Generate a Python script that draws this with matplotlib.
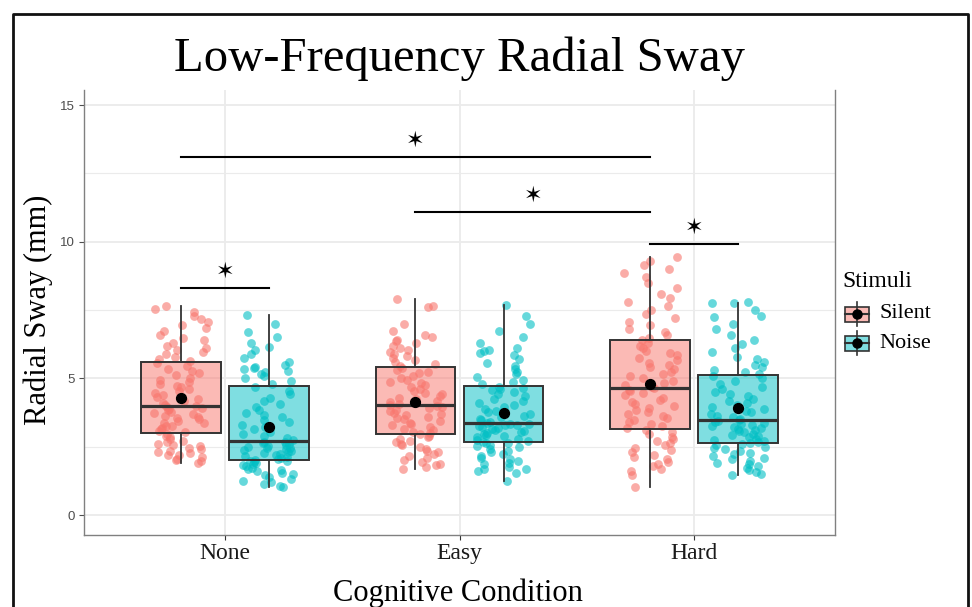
import numpy as np
import matplotlib
matplotlib.use('Agg')
import matplotlib.pyplot as plt
from matplotlib.colors import to_rgba
from matplotlib.patches import Rectangle


# data
conditions = ['None', 'Easy', 'Hard']
stimuli = ['Silent', 'Noise']
colors = ['#F8766D', '#00BFC4']

# box statistics per condition: [Silent, Noise]
q1 = [[2.99, 2.00], [2.96, 2.66], [3.13, 2.64]]
median = [[3.99, 2.70], [4.03, 3.37], [4.65, 3.49]]
q3 = [[5.60, 4.73], [5.40, 4.72], [6.42, 5.11]]
whisker_lo = [[1.90, 1.03], [1.70, 1.25], [1.03, 1.46]]
whisker_hi = [[7.66, 7.33], [7.92, 7.70], [9.43, 7.76]]
means = [[4.28, 3.22], [4.14, 3.73], [4.78, 3.92]]

# jittered observations
none_silent = [1.92, 1.97, 2.03, 2.05, 2.12, 2.18, 2.21, 2.26, 2.31, 2.33, 2.42, 2.47, 2.51, 2.58, 2.6, 2.67, 2.72, 2.8, 2.86, 2.91, 2.97,
               3.02, 3.08, 3.13, 3.19, 3.24, 3.27, 3.35, 3.38, 3.44, 3.5, 3.55, 3.58, 3.63, 3.69, 3.72, 3.78, 3.83, 3.87, 3.91, 3.95, 3.98,
               4.02, 4.1, 4.18, 4.25, 4.31, 4.4, 4.46, 4.52, 4.6, 4.67, 4.73, 4.81, 4.88, 4.95, 5.03, 5.12, 5.2, 5.28, 5.36, 5.45, 5.55,
               5.65, 5.72, 5.8, 5.9, 5.98, 6.05, 6.12, 6.2, 6.31, 6.4, 6.48, 6.6, 6.72, 6.85, 6.95, 7.05, 7.18, 7.3, 7.42, 7.55, 7.66]
none_noise = [1.03, 1.08, 1.12, 1.2, 1.25, 1.33, 1.38, 1.45, 1.5, 1.55, 1.6, 1.64, 1.7, 1.73, 1.78, 1.82, 1.86, 1.9, 1.93, 1.96, 1.99,
              2.02, 2.05, 2.09, 2.12, 2.15, 2.2, 2.23, 2.26, 2.3, 2.34, 2.37, 2.4, 2.44, 2.47, 2.5, 2.53, 2.57, 2.6, 2.63, 2.66, 2.69,
              2.75, 2.82, 2.9, 2.98, 3.05, 3.14, 3.22, 3.3, 3.4, 3.48, 3.57, 3.66, 3.75, 3.85, 3.95, 4.05, 4.18, 4.3, 4.42, 4.55, 4.68,
              4.8, 4.9, 5.0, 5.08, 5.15, 5.22, 5.28, 5.33, 5.38, 5.42, 5.5, 5.6, 5.75, 5.9, 6.05, 6.15, 6.3, 6.5, 6.7, 7.0, 7.33]
easy_silent = [1.7, 1.76, 1.82, 1.88, 1.95, 2.02, 2.1, 2.16, 2.22, 2.3, 2.36, 2.42, 2.5, 2.55, 2.6, 2.66, 2.72, 2.78, 2.84, 2.9, 2.95,
               2.99, 3.05, 3.1, 3.16, 3.22, 3.28, 3.33, 3.38, 3.44, 3.5, 3.55, 3.6, 3.65, 3.7, 3.75, 3.8, 3.85, 3.9, 3.94, 3.98, 4.02,
               4.06, 4.12, 4.18, 4.24, 4.3, 4.36, 4.42, 4.48, 4.55, 4.62, 4.68, 4.75, 4.82, 4.88, 4.95, 5.02, 5.1, 5.18, 5.25, 5.32, 5.38,
               5.45, 5.52, 5.6, 5.68, 5.75, 5.82, 5.9, 5.98, 6.05, 6.12, 6.2, 6.28, 6.35, 6.42, 6.5, 6.6, 6.75, 7.0, 7.6, 7.65, 7.92]
easy_noise = [1.25, 1.55, 1.62, 1.68, 1.7, 1.76, 1.85, 1.92, 1.98, 2.05, 2.1, 2.15, 2.22, 2.3, 2.36, 2.42, 2.48, 2.53, 2.58, 2.62, 2.65,
              2.68, 2.72, 2.76, 2.8, 2.84, 2.88, 2.92, 2.96, 3.0, 3.04, 3.08, 3.12, 3.15, 3.18, 3.22, 3.25, 3.28, 3.3, 3.32, 3.34, 3.36,
              3.4, 3.46, 3.52, 3.58, 3.64, 3.7, 3.76, 3.82, 3.88, 3.95, 4.02, 4.1, 4.18, 4.26, 4.34, 4.42, 4.5, 4.56, 4.62, 4.66, 4.7,
              4.78, 4.86, 4.95, 5.05, 5.15, 5.25, 5.35, 5.45, 5.55, 5.7, 5.85, 5.92, 6.0, 6.05, 6.1, 6.3, 6.5, 6.75, 7.0, 7.3, 7.7]
hard_silent = [1.03, 1.45, 1.6, 1.7, 1.78, 1.85, 1.95, 2.05, 2.12, 2.2, 2.3, 2.38, 2.45, 2.55, 2.62, 2.7, 2.78, 2.86, 2.95, 3.02, 3.1,
               3.18, 3.25, 3.32, 3.4, 3.48, 3.55, 3.62, 3.7, 3.78, 3.85, 3.92, 4.0, 4.08, 4.15, 4.22, 4.3, 4.38, 4.45, 4.52, 4.58, 4.63,
               4.68, 4.75, 4.83, 4.92, 5.0, 5.08, 5.16, 5.25, 5.33, 5.42, 5.5, 5.58, 5.66, 5.75, 5.84, 5.92, 6.0, 6.1, 6.2, 6.3, 6.4,
               6.48, 6.58, 6.7, 6.82, 6.95, 7.05, 7.2, 7.35, 7.5, 7.65, 7.8, 7.95, 8.1, 8.3, 8.5, 8.7, 8.85, 9.0, 9.15, 9.3, 9.43]
hard_noise = [1.46, 1.5, 1.58, 1.65, 1.72, 1.8, 1.86, 1.92, 1.98, 2.05, 2.1, 2.16, 2.22, 2.28, 2.34, 2.4, 2.45, 2.5, 2.55, 2.6, 2.63,
              2.67, 2.72, 2.76, 2.8, 2.85, 2.9, 2.94, 2.98, 3.02, 3.06, 3.1, 3.14, 3.18, 3.22, 3.26, 3.3, 3.34, 3.38, 3.42, 3.45, 3.48,
              3.52, 3.58, 3.64, 3.7, 3.76, 3.82, 3.88, 3.95, 4.02, 4.1, 4.18, 4.26, 4.34, 4.42, 4.5, 4.6, 4.7, 4.8, 4.9, 5.0, 5.08,
              5.15, 5.22, 5.3, 5.4, 5.5, 5.6, 5.7, 5.8, 5.95, 6.1, 6.25, 6.4, 6.6, 6.8, 7.0, 7.25, 7.3, 7.5, 7.75, 7.8, 7.76]
observations = [[none_silent, none_noise], [easy_silent, easy_noise], [hard_silent, hard_noise]]

# significance brackets: (from group, to group, height)
sig_from = [(0, 0), (0, 0), (1, 0), (2, 0)]
sig_to = [(0, 1), (2, 0), (2, 0), (2, 1)]
sig_height = [8.3, 13.1, 11.1, 9.9]


# initial the figure
fig = plt.figure(figsize=(9.72, 6.07), dpi=100)
ax = fig.add_axes([84 / 972, 72 / 607, 751 / 972, 445 / 607])
serif = 'Liberation Serif'
dodge = 0.1875


def group_x(cond_idx, stim_idx):
    return cond_idx + 1 + (dodge if stim_idx else -dodge)


# plot data
for ci in range(len(conditions)):
    for si in range(len(stimuli)):
        x0 = group_x(ci, si)
        y = np.array(observations[ci][si])
        # deterministic scatter-like horizontal jitter
        k = np.arange(len(y)) + 97 * ci + 311 * si
        jit = ((np.sin(k * 12.9898 + 1.7) * 43758.5453) % 1 - 0.5) * 0.23
        ax.scatter(x0 + jit, y, s=40, color=colors[si], alpha=0.6, lw=0, zorder=2)
        stats = [dict(med=median[ci][si], q1=q1[ci][si], q3=q3[ci][si],
                      whislo=whisker_lo[ci][si], whishi=whisker_hi[ci][si], fliers=[])]
        ax.bxp(stats, positions=[x0], widths=0.34, patch_artist=True, showfliers=False,
               showcaps=False, manage_ticks=False, zorder=3,
               boxprops=dict(facecolor=to_rgba(colors[si], 0.5), edgecolor='#333333', lw=1.4),
               medianprops=dict(color='#333333', lw=2.3),
               whiskerprops=dict(color='#333333', lw=1.3))
        ax.scatter([x0], [means[ci][si]], s=50, color='black', zorder=4)

# significance bars and stars
for (a, b), h in zip(zip(sig_from, sig_to), sig_height):
    xa, xb = group_x(*a), group_x(*b)
    ax.plot([xa, xb], [h, h], color='black', lw=1.5, zorder=4)
    ax.text((xa + xb) / 2, h + 0.6, '\u2736', family='DejaVu Sans', fontsize=16,
            ha='center', va='center', zorder=4)


# axes settings
ax.set_xlim(0.4, 3.6)
ax.set_ylim(-0.73, 15.55)
ax.set_xticks([1, 2, 3])
ax.set_xticklabels(conditions, family=serif, fontsize=17, color='#1a1a1a')
ax.set_yticks([0, 5, 10, 15])
ax.set_yticks([2.5, 7.5, 12.5], minor=True)
ax.tick_params(axis='y', which='major', labelsize=9.5, labelcolor='#4D4D4D', color='#4D4D4D', length=3.5, width=0.8, pad=3)
ax.tick_params(axis='y', which='minor', length=0)
ax.tick_params(axis='x', length=3.5, width=0.8, color='#333333', pad=2)
for lab in ax.get_yticklabels():
    lab.set_family('Liberation Sans')
ax.grid(which='major', color='#EBEBEB', lw=1.3, zorder=0)
ax.grid(which='minor', axis='y', color='#EBEBEB', lw=0.8, zorder=0)
ax.set_axisbelow(True)
for side in ['left', 'bottom', 'right']:
    ax.spines[side].set_color('#808080')
    ax.spines[side].set_linewidth(1.0)
ax.spines['top'].set_visible(False)

# titles
fig.text(459 / 972, 1 - 71 / 607, 'Low-Frequency Radial Sway', family=serif, fontsize=35,
         ha='center', va='baseline')
fig.text(458 / 972, 1 - 601 / 607, 'Cognitive Condition', family=serif, fontsize=22,
         ha='center', va='baseline')
fig.text(38 / 972, 1 - 310 / 607, 'Radial Sway (mm)', family=serif, fontsize=22,
         ha='center', va='center', rotation=90)

# overlay in pixel coordinates for legend and outer frame
ov = fig.add_axes([0, 0, 1, 1], zorder=5)
ov.set_xlim(0, 972)
ov.set_ylim(607, 0)
ov.axis('off')
ov.plot([13, 13, 968, 968], [610, 14, 14, 610], color='#111111', lw=2)

ov.text(842, 287, 'Stimuli', family=serif, fontsize=17, va='baseline')
for si, lab in enumerate(stimuli):
    yc = 314 + 29 * si
    ov.plot([857, 857], [yc - 12, yc + 12], color='#333333', lw=1.2)
    ov.add_patch(Rectangle((845, yc - 7.5), 24, 15, facecolor=to_rgba(colors[si], 0.5),
                           edgecolor='#333333', lw=1.2))
    ov.plot([845, 869], [yc, yc], color='#333333', lw=1.5)
    ov.plot([857], [yc], 'o', color='black', ms=6.5)
    ov.text(879, yc, lab, family=serif, fontsize=16, va='center')

fig.savefig('out.png', dpi=100)
